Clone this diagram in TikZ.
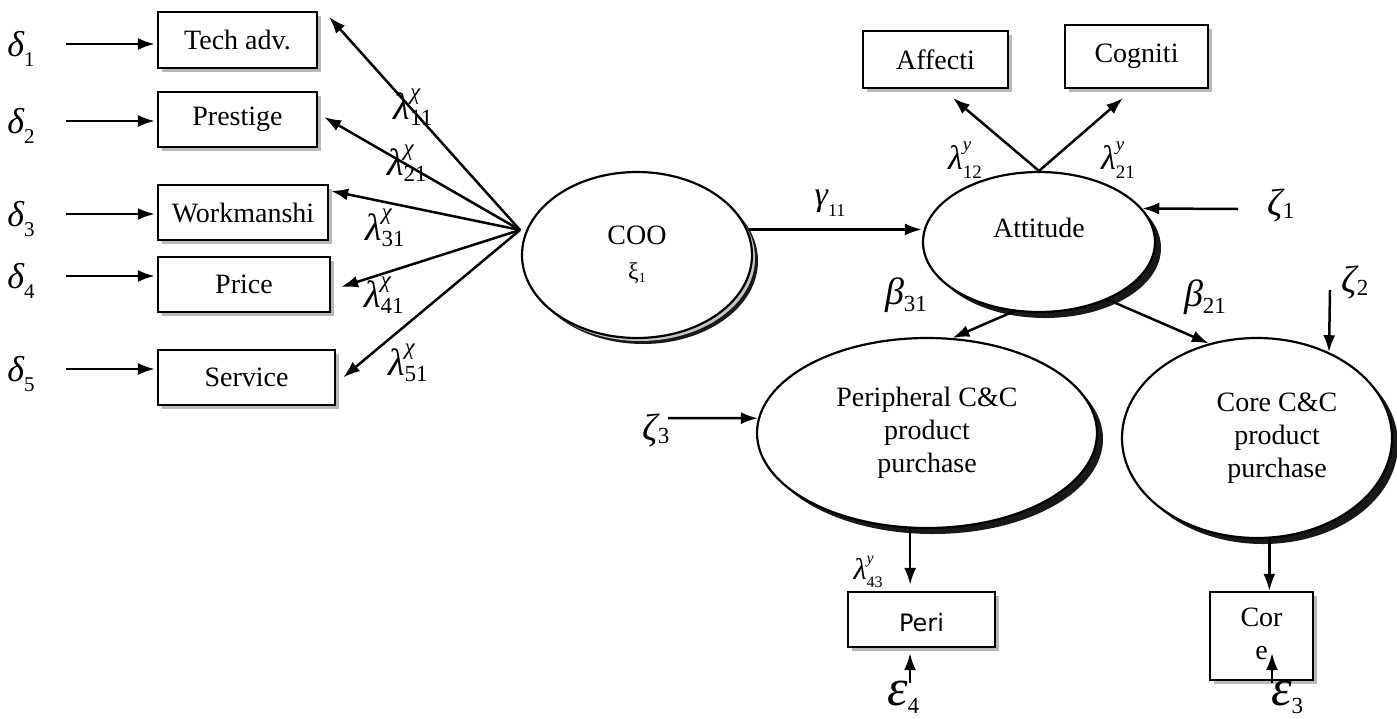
\documentclass[tikz,border=0pt]{standalone}
\usepackage{fontspec}
\setmainfont{Liberation Serif}
\newfontfamily\perifont{DejaVu Sans}
\usetikzlibrary{shapes.geometric,shadows,arrows.meta,calc}
\newcommand{\txtsz}{\fontsize{28}{33}\selectfont}
% greek letter with subscript: size, subsize, letter, sub, lower
\newcommand{\GS}[5]{{\fontsize{#1}{#1}\selectfont\itshape #3}{\fontsize{#2}{#2}\selectfont\raisebox{-#5}{#4}}}
% greek letter with sup and sub: size, subsize, letter, sup, sub, raise, lower
\newcommand{\GSS}[7]{{\fontsize{#1}{#1}\selectfont\itshape #3}{\fontsize{#2}{#2}\selectfont\rlap{\raisebox{#6}{\itshape #4}}\raisebox{-#7}{#5}}}
\begin{document}
\begin{tikzpicture}[x=1pt,y=-1pt,
  box/.style={draw, line width=2.2pt, fill=white, inner sep=0pt, font=\txtsz,
    drop shadow={shadow xshift=4pt,shadow yshift=-4pt,fill=gray!55,opacity=1}},
  ellip/.style={ellipse, draw, line width=2.2pt, fill=white, inner sep=0pt, font=\txtsz,
    drop shadow={shadow xshift=6pt,shadow yshift=-6pt,fill=black!90,opacity=1}},
  arr/.style={line width=2.5pt, -{Latex[length=17pt,width=12pt]}},
  lbl/.style={inner sep=0pt}
]
\useasboundingbox (0,0) rectangle (1397,718);

% indicator boxes (left)
\node[box, minimum width=159pt, minimum height=56pt] (tech) at (237.5,40) {Tech adv.};
\node[box, minimum width=159pt, minimum height=55pt] (prestige) at (237.5,119.5) {Prestige};
\node[box, minimum width=170pt, minimum height=55pt] (work) at (243,212.5) {Workmanshi};
\node[box, minimum width=172pt, minimum height=55pt] (price) at (244,284.5) {Price};
\node[box, minimum width=177pt, minimum height=55pt] (service) at (246.5,377.5) {Service};

% delta labels
\node[lbl] (d1) at (21,49) {\GS{36}{21}{δ}{1}{0.45em}};
\node[lbl] (d2) at (21,126) {\GS{36}{21}{δ}{2}{0.45em}};
\node[lbl] (d3) at (21,219) {\GS{36}{21}{δ}{3}{0.45em}};
\node[lbl] (d4) at (21,281) {\GS{36}{21}{δ}{4}{0.45em}};
\node[lbl] (d5) at (21,374) {\GS{36}{21}{δ}{5}{0.45em}};
\foreach \d/\b in {d1/tech,d2/prestige,d3/work,d4/price,d5/service}{
  \coordinate (\d a) at ([yshift=5pt]\d.east);
  \draw[arr, shorten <=31pt, shorten >=2pt] (\d a) -- (\d a -| \b.west);
}

% latent COO
\node[ellip, minimum width=230pt, minimum height=166pt,
  drop shadow={shadow xshift=3pt,shadow yshift=-3pt,fill=gray!45,opacity=1}] (coo) at (637,255)
  {\begin{tabular}{@{}c@{}}COO\\[2pt]{\fontsize{24}{24}\selectfont ξ}{\fontsize{14}{14}\selectfont\raisebox{-0.25em}{1}}\end{tabular}\hspace{14pt}};

\coordinate (conv) at (520,230);
\draw[arr] (conv) -- ($(tech.north east)+(11,6)$);
\draw[arr] (conv) -- ($(prestige.east)+(6,-2.5)$);
\draw[arr] (conv) -- ($(work.north east)+(2,7)$);
\draw[arr] (conv) -- ($(price.east)+(10,2.5)$);
\draw[arr] (conv) -- ($(service.east)+(7,0)$);

\node[lbl] (l11) at (413,107) {\GSS{38}{23}{λ}{χ}{11}{0.9em}{0.25em}};
\node[lbl] (l21) at (407,163) {\GSS{38}{23}{λ}{χ}{21}{0.9em}{0.25em}};
\node[lbl] (l31) at (385,228) {\GSS{38}{23}{λ}{χ}{31}{0.9em}{0.25em}};
\node[lbl] (l41) at (384,295) {\GSS{38}{23}{λ}{χ}{41}{0.9em}{0.25em}};
\node[lbl] (l51) at (408,363) {\GSS{38}{23}{λ}{χ}{51}{0.9em}{0.25em}};

% Attitude
\node[ellip, minimum width=232pt, minimum height=140pt] (att) at (1039,242)
  {\raisebox{5pt}[0pt][0pt]{Attitude}};
\node[box, minimum width=145pt, minimum height=57pt] (affecti) at (935.5,59.5) {Affecti};
\node[box, minimum width=143pt, minimum height=63pt] (cogniti) at (1136.5,56.5) {Cogniti};

\draw[arr] (coo.13) -- (coo.13 -| att.west);
\node[lbl] (g11) at (830,203) {\GS{34}{18}{γ}{11}{0.6em}};

\draw[arr] (att.north) -- ($(affecti.south)+(17.5,9)$);
\draw[arr] (att.north) -- ($(cogniti.south)+(-13.5,9)$);
\node[lbl] (ly12) at (965,160) {\GSS{34}{19}{λ}{y}{12}{1.0em}{0.5em}};
\node[lbl] (ly21) at (1118,160) {\GSS{34}{19}{λ}{y}{21}{1.0em}{0.5em}};

\coordinate (z1s) at (1238,209);
\draw[arr] (z1s) -- (att.18);
\node[lbl] (z1) at (1281,205) {\GS{38}{23}{ζ}{1}{0.15em}};

% Peripheral and Core
\node[ellip, minimum width=340pt, minimum height=190pt] (perc) at (927,433)
  {\begin{tabular}{@{}c@{}}Peripheral C\&C\\product\\purchase\end{tabular}};
\node[ellip, minimum width=270pt, minimum height=200pt] (corec) at (1257,438)
  {\hspace{40pt}\begin{tabular}{@{}c@{}}Core C\&C\\product\\purchase\end{tabular}};

\draw[arr] (att.250) -- (perc.75);
\draw[arr] (att.-40) -- (corec.117);
\node[lbl] (b31) at (906,295) {\GS{38}{23}{β}{31}{0.3em}};
\node[lbl] (b21) at (1205,297) {\GS{38}{23}{β}{21}{0.3em}};

\coordinate (z2s) at (1330,290);
\draw[arr] (z2s) -- (corec.50);
\node[lbl] (z2) at (1355,282) {\GS{38}{23}{ζ}{2}{0.15em}};

\coordinate (z3s) at (668,418);
\draw[arr] (z3s) -- (perc.175);
\node[lbl] (z3) at (656,430) {\GS{38}{23}{ζ}{3}{0.15em}};

% Peri and Core boxes
\node[box, minimum width=147pt, minimum height=55pt, font=\perifont\fontsize{24}{28}\selectfont] (peri) at (921.5,619.5)
  {\raisebox{-12pt}[0pt][0pt]{Peri}};
\node[box, minimum width=103pt, minimum height=88pt] (core) at (1261.5,636)
  {\begin{tabular}{@{}c@{}}Cor\\e\end{tabular}};

\draw[arr] (perc.260) -- ($(perc.260 |- peri.north)+(0,-6)$);
\node[lbl] (ly43) at (868,572) {\GSS{30}{16}{λ}{y}{43}{1.0em}{0.5em}};
\draw[arr] (corec.-83) -- (corec.-83 |- core.north);

\coordinate (e4s) at (910,683);
\draw[arr] (e4s) -- ($(e4s |- peri.south)+(0,5)$);
\node[lbl] (e4) at (903,697) {\GS{52}{23}{ε}{4}{0.35em}};

\coordinate (e3s) at (1272,683);
\coordinate (e3t) at (1272,653);
\draw[arr] (e3s) -- (e3t);
\node[lbl] (e3) at (1287,697) {\GS{52}{23}{ε}{3}{0.35em}};
\end{tikzpicture}
\end{document}
